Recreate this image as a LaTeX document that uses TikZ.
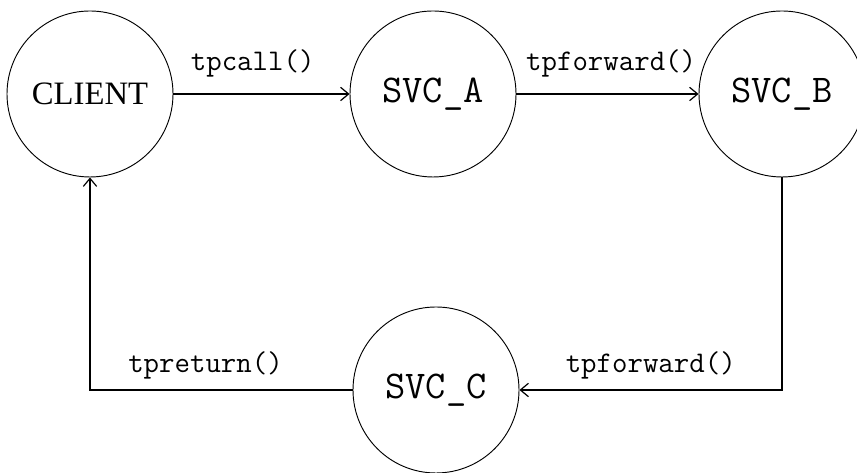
\documentclass[tikz,border=0pt]{standalone}
\usepackage{fontspec}
\setmainfont{Liberation Serif}
\usetikzlibrary{arrows.meta}
\newcommand{\sizeservice}{124.5pt}
\newcommand{\gapservice}{343}
\tikzset{
    service/.style={draw, circle, minimum size=\sizeservice, inner sep=0pt, line width=0.7pt},
    client/.style={service, font=\fontsize{24.5}{24.5}\selectfont},
    server/.style={service, font=\ttfamily\fontsize{29.5}{29.5}\selectfont},
    call/.style={font=\ttfamily\fontsize{22.5}{22.5}\selectfont, inner sep=2pt},
    flow/.style={->, line width=0.9pt}
}

\begin{document}
\begin{tikzpicture}[x=0.75pt, y=0.75pt, >={Straight Barb[length=6pt, width=10pt]}]
        \useasboundingbox (0,0) rectangle (857,473);
        \path
            (90,379) node[client] (client) {CLIENT}
            to ++(\gapservice,0) node[server] (svc-A) {SVC\_A}
            to ++(349,0) node[server] (svc-B) {SVC\_B};

        \path
            (436,83) node[server] (svc-C) {SVC\_C};

        \draw[flow] (client) -- node[call, above, pos=0.45, yshift=10pt] {tpcall()} (svc-A);
        \draw[flow] (svc-A) -- node[call, above, pos=0.52, yshift=10pt] {tpforward()} (svc-B);
        \draw[flow] (svc-B.south) |- node[call, above, pos=0.75, yshift=5.5pt] {tpforward()} (svc-C.east);
        \draw[flow] (svc-C.west) -| node[call, above, pos=0.28, yshift=5.5pt] {tpreturn()} (client.south);
    \end{tikzpicture}
\end{document}
